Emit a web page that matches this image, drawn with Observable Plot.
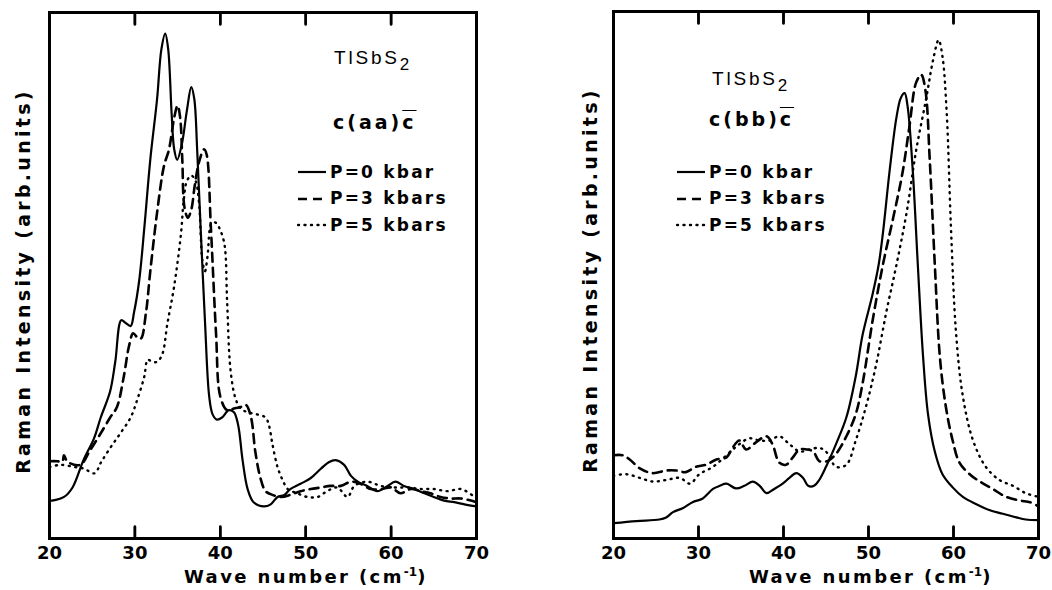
<!DOCTYPE html>
<html><head><meta charset="utf-8">
<script src="https://cdn.jsdelivr.net/npm/d3@7"></script>
<script src="https://cdn.jsdelivr.net/npm/@observablehq/plot@0.6"></script>
<style>
body{margin:0;background:#fff;}
#wrap{position:relative;width:1052px;height:590px;overflow:hidden;background:#fff;}
.panel{position:absolute;top:0;}
.ann{position:absolute;font-family:"Liberation Sans",Arial,sans-serif;font-size:19px;color:#000;letter-spacing:2.8px;white-space:nowrap;line-height:1;}
.ann sub{font-size:17px;vertical-align:-6px;}
.geo{font-family:"DejaVu Sans",sans-serif;font-weight:bold;font-size:19px;letter-spacing:3px;}
.ov{text-decoration:overline;}
.lab{position:absolute;font-family:"DejaVu Sans",sans-serif;font-weight:bold;font-size:18px;letter-spacing:2.4px;white-space:nowrap;line-height:1;color:#000;}
.lab sup{font-size:12px;vertical-align:7px;letter-spacing:0;}
.ylab{transform:translate(-50%,-50%) rotate(-90deg);font-size:19px;letter-spacing:3.3px;}
.leg{position:absolute;font-family:"DejaVu Sans",sans-serif;font-weight:bold;font-size:17px;letter-spacing:2.2px;white-space:nowrap;line-height:1;color:#000;}
.leg div{height:26.5px;display:flex;align-items:center;}
.leg .sw{margin-right:3px;}
</style>
</head><body>
<div id="wrap"></div>
<script>
// ---- data (wave number cm^-1, intensity arb. units 0..100) ----
const xTicks = [20, 30, 40, 50, 60, 70];
const innerTicks = [30, 40, 50, 60];
const legendLabels = ["P=0 kbar", "P=3 kbars", "P=5 kbars"];
const titleText = "TlSbS";
const geomLeft = "c(aa)";
const geomRight = "c(bb)";

// Left panel: c(aa)c̄
const aaP0 = [[20.0,7.2],[20.3,7.2],[21.7,7.9],[22.7,9.7],[24.0,15],[25.2,19],[26,23],[27.1,28],[27.7,33.6],[28.4,41.5],[28.9,41],[29.5,40.4],[29.9,43],[30.5,49],[31.1,59],[31.8,72],[32.6,83.6],[33.1,93],[33.55,96],[33.9,93],[34.3,80.8],[34.6,74],[34.95,72],[35.5,75],[36.1,81.5],[36.6,85.8],[36.95,83.6],[37.3,73.6],[37.7,59],[38.2,41.5],[38.7,27],[39.1,23.6],[39.6,22.6],[40.2,23],[41.0,24.4],[41.6,24],[42.1,21.5],[42.6,15],[43.2,9.4],[43.9,6.9],[45.1,6.1],[45.9,6.5],[46.7,7.9],[47.5,8.3],[48.2,9.4],[49.4,10.4],[50.6,11.5],[51.8,13.3],[52.7,14.5],[53.5,14.9],[54.5,14],[55.3,11.9],[56.1,10.8],[57.2,10],[58.4,9],[59.6,10],[60.5,10.8],[61.5,10],[62.7,9.4],[63.9,8.6],[65.0,7.9],[66.2,7.2],[67.4,6.9],[68.6,6.5],[70,6.1]];
const aaP3 = [[20,14.7],[20.9,14.7],[21.5,14.6],[21.7,15.8],[22.1,14.6],[23.6,14],[24.8,16.9],[26,20],[27.1,23],[27.9,25],[28.7,30.8],[29.3,36.5],[29.8,39],[30.3,38.2],[30.7,38],[31.3,43],[31.8,50.8],[32.6,62],[33.4,70.8],[34.0,74],[34.6,80],[35.0,82.3],[35.3,80],[35.55,72],[35.8,63],[36.2,61],[36.6,62.5],[37.0,67],[37.5,71.5],[38.1,74],[38.4,73],[38.9,59],[39.5,39],[40.0,27],[40.8,24.4],[41.6,24.7],[42.4,25],[43.0,25.4],[43.6,23],[44.1,16.5],[44.7,11.5],[45.3,9],[46.1,8.3],[47.1,7.9],[48.2,8.3],[49.4,9],[50.6,9.4],[51.8,9.7],[52.9,10],[54.1,10],[55.3,10.8],[56.4,10.4],[57.6,9.4],[58.8,9.4],[60,9.7],[61.1,8.6],[62.3,9.4],[63.5,9],[64.6,8.6],[65.8,7.9],[67,7.6],[68.2,7.6],[70,6.9]];
const aaP5 = [[20,13.6],[21.3,14],[22.9,13.6],[24.0,13.3],[25.3,12.4],[26,14.4],[27.1,17.2],[28.3,20],[29.5,23],[30.3,26.5],[31.1,30.8],[31.5,34],[32.0,33.6],[32.6,33.6],[33.2,35],[33.8,40.8],[34.6,48],[35.4,58],[35.7,64],[36.1,68],[36.6,69],[37.1,68],[37.5,64],[37.9,52.9],[38.2,50.8],[38.5,53.6],[39.0,60],[39.5,60],[40,58.6],[40.5,55.8],[40.8,45],[41.2,32],[41.8,26.5],[42.4,24.7],[43.2,24],[44.3,23.6],[45.3,23],[45.7,21.5],[46.1,18],[46.7,13.6],[47.3,11.1],[47.9,9.4],[49.0,8.6],[50.2,7.9],[51.4,7.9],[52.5,9],[53.7,9.7],[54.9,7.9],[55.7,10],[57.2,10.8],[58.8,10],[60.3,9.7],[61.9,9.7],[63.5,9.4],[65.0,9.4],[66.6,9],[68.2,9.4],[70,7.6]];

// Right panel: c(bb)c̄
const bbP0 = [[20,2.9],[22.7,3.3],[25.4,3.6],[26.2,4],[27,5],[28.2,5.8],[29.3,6.9],[30.5,7.6],[31.7,9.4],[32.5,10],[33.3,10.4],[34.4,9.5],[35.4,10],[36.4,10.8],[37.2,10],[38,8.6],[38.9,9.4],[39.9,10.4],[40.7,11.5],[41.5,12.4],[42.3,11.5],[42.9,10],[43.6,10],[44.2,11.1],[45,13.6],[46.2,18],[47.4,23],[48.5,30.8],[49.3,38.6],[50.5,46.5],[51.2,52],[51.7,58],[52.5,70],[53.3,80],[53.8,83.6],[54.25,84.5],[54.6,82],[55.2,70],[55.8,52],[56.4,35],[57,23.6],[57.8,16.5],[58.7,12.2],[59.9,9.7],[61.1,7.9],[62.7,6.5],[64.2,5.4],[65.8,4.7],[67.4,4],[68.5,3.6],[70,3.5]];
const bbP3 = [[20,15.8],[21.1,15.8],[21.9,15],[23.1,13.3],[24.6,12.4],[26.2,12.9],[27.4,12.9],[28.5,12.6],[29.7,13.6],[30.9,14],[32.1,15],[33.3,15.4],[34,17.2],[34.8,18.6],[35.6,16.9],[36.8,18.3],[38,19.4],[38.7,17.9],[39.5,14.4],[40.3,14],[41.1,15.4],[41.9,16.9],[42.7,16.9],[43.5,16.5],[44.2,14.7],[45.2,14.7],[46.2,16.1],[47.4,19.4],[48.5,23.6],[49.3,29.4],[50.5,41.5],[51.7,52],[52.9,60.8],[54.0,69.4],[54.8,78],[55.6,86.5],[56.2,88],[56.7,85],[57.2,72],[57.8,52],[58.4,34.4],[59.1,25],[59.9,18.6],[60.7,14.4],[61.9,12.2],[63.1,10.8],[64.6,9.4],[66.2,7.9],[67.8,7.2],[69,6.9],[70,6.1]];
const bbP5 = [[20,11.9],[21.5,12.2],[23.1,11.5],[24.6,10.8],[26.2,11.1],[27.8,11.5],[29,10.4],[30.1,12.2],[31.7,13.6],[33.3,15.8],[34.8,17.9],[36,19],[37.2,18.6],[38.4,18.6],[39.5,19.4],[40.7,17.9],[41.9,16.5],[43.1,16.9],[44.2,17.2],[45,16.5],[46.2,13.6],[47.4,14],[48.5,18.6],[49.7,25],[50.9,33],[52.1,43],[53.3,52],[54.5,62],[55.6,73.6],[56.8,83.6],[57.6,90.8],[58.25,94.6],[58.7,91.5],[59.2,80.8],[59.7,59],[60.3,39],[61.1,27],[62.3,18.6],[63.8,13.6],[65.4,11.1],[67,10],[68.5,8.6],[70,7.9]];

const styles = [
  {strokeWidth: 2.2},
  {strokeWidth: 2.6, strokeDasharray: "9,6"},
  {strokeWidth: 2.4, strokeDasharray: "1,5.5", strokeLinecap: "round"}
];

function panel(series, m){
  const innerH = 590 - m.top - m.bottom;
  const tl = 12 * 100 / innerH; // 12px inner tick length, in y units
  // inner ticks as short path segments (bottom and top edges)
  const tickSegs = innerTicks.flatMap(t => [
    {x: t, y: 0, k: "b" + t}, {x: t, y: tl, k: "b" + t},
    {x: t, y: 100 - tl, k: "t" + t}, {x: t, y: 100, k: "t" + t}
  ]);
  return Plot.plot({
    width: 526, height: 590,
    marginLeft: m.left, marginRight: m.right, marginTop: m.top, marginBottom: m.bottom,
    x: {domain: [20, 70]},
    y: {domain: [0, 100], axis: null},
    style: {fontFamily: "DejaVu Sans", background: "transparent"},
    marks: [
      ...series.map((s, i) => Plot.line(s.map(([x, y]) => ({x, y})), {x: "x", y: "y", stroke: "black", curve: "catmull-rom", strokeLinejoin: "round", ...styles[i]})),
      Plot.frame({stroke: "black", strokeWidth: 3}),
      Plot.line(tickSegs, {x: "x", y: "y", z: "k", stroke: "black", strokeWidth: 2.5}),
      Plot.link(innerTicks, {x1: d => d, x2: d => d, y1: 0, y2: tl, stroke: "black", strokeWidth: 2.5}),
      Plot.link(innerTicks, {x1: d => d, x2: d => d, y1: 100 - tl, y2: 100, stroke: "black", strokeWidth: 2.5}),
      Plot.axisX({ticks: xTicks, tickSize: 0, tickPadding: 8, tickFormat: d => String(d), fontSize: 18, fontWeight: "bold", label: null})
    ]
  });
}

const wrap = document.getElementById("wrap");
function place(el, left){ el.classList.add("panel"); el.style.left = left + "px"; wrap.appendChild(el); }

place(panel([aaP0, aaP3, aaP5], {left: 49, right: 50, top: 12, bottom: 52}), 0);
place(panel([bbP0, bbP3, bbP5], {left: 87, right: 14, top: 11, bottom: 52}), 526);

function addHTML(html){ const d = document.createElement("div"); d.innerHTML = html; const el = d.firstElementChild; wrap.appendChild(el); return el; }

function legendSVG(i){
  const st = styles[i];
  return `<svg class="sw" width="30" height="6"><line x1="1" y1="3" x2="29" y2="3" stroke="black" stroke-width="${st.strokeWidth}" ${st.strokeDasharray ? `stroke-dasharray="${st.strokeDasharray}"` : ""} stroke-linecap="${st.strokeLinecap || "butt"}"/></svg>`;
}
function legend(left, top){
  addHTML(`<div class="leg" style="left:${left}px;top:${top}px">${legendLabels.map((l,i)=>`<div>${legendSVG(i)}<span>${l}</span></div>`).join("")}</div>`);
}

// left annotations
addHTML(`<div class="ann" style="left:334px;top:48px">${titleText}<sub>2</sub></div>`);
addHTML(`<div class="ann geo" style="left:333px;top:113px">${geomLeft}<span class="ov">c</span></div>`);
legend(297, 159);
// right annotations
addHTML(`<div class="ann" style="left:712px;top:69px">${titleText}<sub>2</sub></div>`);
addHTML(`<div class="ann geo" style="left:709px;top:110px">${geomRight}<span class="ov">c</span></div>`);
legend(676, 159);

// axis titles
addHTML(`<div class="lab" style="left:184px;top:566px">Wave number (cm<sup>-1</sup>)</div>`);
addHTML(`<div class="lab" style="left:749px;top:566px">Wave number (cm<sup>-1</sup>)</div>`);
addHTML(`<div class="lab ylab" style="left:23px;top:281px">Raman Intensity (arb.units)</div>`);
addHTML(`<div class="lab ylab" style="left:590px;top:280px">Raman Intensity (arb.units)</div>`);
</script>
</body></html>
